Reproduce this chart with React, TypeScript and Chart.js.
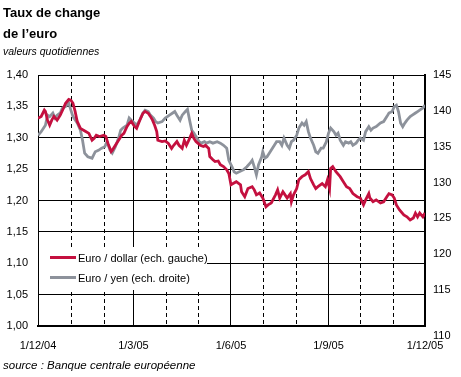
import React, { useEffect, useRef } from 'react';
import { Chart, registerables } from 'chart.js';

Chart.register(...registerables);

const FONT = '"Liberation Sans", Arial, Helvetica, sans-serif';
const RED = '#c4103f';
const GREY = '#8d929b';

// Day offsets counted from 1 December 2004
const usdDays = [
  0, 3, 6, 7, 9, 11, 13, 15, 18, 21,
  24, 26, 29, 31, 33, 35, 37, 40, 43, 45,
  48, 51, 53, 55, 58, 62, 64, 66, 69, 70,
  73, 76, 79, 81, 84, 86, 88, 91, 93, 96,
  99, 101, 104, 106, 108, 110, 112, 113, 117, 120,
  123, 126, 128, 131, 133, 136, 138, 140, 143, 145,
  147, 149, 151, 153, 156, 158, 161, 162, 165, 167,
  170, 172, 175, 178, 180, 182, 184, 187, 191, 192,
  195, 198, 202, 204, 206, 209, 212, 215, 217, 220,
  224, 226, 228, 231, 233, 235, 238, 239, 241, 244,
  246, 249, 252, 255, 257, 260, 262, 264, 268, 271,
  273, 275, 276, 278, 281, 285, 288, 291, 294, 297,
  301, 304, 307, 309, 312, 313, 316, 319, 323, 326,
  329, 331, 334, 336, 338, 341, 345, 348, 351, 354,
  356, 358, 360, 363, 365,
];
const usdRates = [
  1.331, 1.334, 1.344, 1.342, 1.328, 1.320, 1.328, 1.334, 1.328, 1.336,
  1.347, 1.355, 1.361, 1.360, 1.355, 1.342, 1.326, 1.315, 1.312, 1.310,
  1.307, 1.296, 1.299, 1.304, 1.302, 1.304, 1.302, 1.291, 1.278, 1.280,
  1.288, 1.296, 1.304, 1.307, 1.318, 1.323, 1.326, 1.318, 1.315, 1.328,
  1.339, 1.342, 1.339, 1.334, 1.328, 1.320, 1.310, 1.296, 1.294, 1.295,
  1.291, 1.283, 1.288, 1.294, 1.288, 1.283, 1.296, 1.288, 1.299, 1.307,
  1.299, 1.294, 1.291, 1.288, 1.286, 1.288, 1.283, 1.270, 1.265, 1.262,
  1.263, 1.257, 1.254, 1.249, 1.243, 1.225, 1.227, 1.230, 1.225, 1.214,
  1.206, 1.219, 1.222, 1.217, 1.209, 1.212, 1.204, 1.190, 1.193, 1.196,
  1.209, 1.217, 1.204, 1.214, 1.209, 1.204, 1.211, 1.198, 1.209, 1.219,
  1.233, 1.238, 1.241, 1.246, 1.235, 1.225, 1.219, 1.222, 1.227, 1.222,
  1.233, 1.219, 1.251, 1.254, 1.246, 1.238, 1.230, 1.222, 1.219, 1.211,
  1.206, 1.204, 1.193, 1.201, 1.211, 1.204, 1.198, 1.201, 1.196, 1.198,
  1.206, 1.211, 1.209, 1.204, 1.193, 1.185, 1.177, 1.174, 1.169, 1.172,
  1.180, 1.174, 1.180, 1.174, 1.180,
];

const jpyDays = [
  0, 3, 7, 9, 11, 14, 16, 18, 21, 23,
  26, 29, 31, 33, 37, 40, 42, 44, 47, 51,
  54, 57, 60, 63, 65, 68, 70, 73, 76, 78,
  80, 84, 86, 88, 91, 93, 96, 99, 101, 104,
  106, 109, 111, 113, 117, 120, 122, 124, 127, 129,
  131, 134, 136, 139, 141, 143, 145, 147, 150, 152,
  154, 157, 159, 162, 165, 169, 172, 175, 178, 180,
  183, 185, 187, 194, 197, 200, 202, 204, 206, 208,
  211, 212, 214, 216, 219, 222, 225, 228, 230, 232,
  235, 237, 239, 241, 244, 246, 249, 251, 253, 255,
  257, 260, 262, 264, 267, 269, 272, 274, 276, 279,
  281, 283, 285, 288, 290, 293, 295, 297, 300, 302,
  304, 307, 309, 312, 314, 316, 319, 323, 326, 329,
  331, 334, 336, 338, 340, 342, 344, 346, 348, 351,
  353, 356, 358, 360, 363, 365,
];
const jpyRates = [
  136.6, 137.1, 138.0, 139.4, 139.2, 139.7, 139.0, 139.4, 139.7, 140.4,
  140.6, 141.1, 140.1, 139.2, 138.3, 137.3, 135.9, 134.1, 133.6, 133.4,
  134.3, 134.5, 134.8, 135.0, 135.7, 134.5, 134.1, 135.0, 136.2, 137.3,
  137.6, 138.0, 139.0, 138.7, 138.3, 138.0, 138.7, 139.7, 140.1, 139.9,
  139.4, 139.0, 138.5, 138.3, 138.5, 139.0, 139.2, 139.4, 139.7, 139.9,
  139.4, 138.7, 139.4, 139.9, 140.2, 138.7, 137.3, 136.9, 136.2, 135.7,
  135.5, 135.7, 135.5, 135.7, 135.5, 135.7, 135.5, 135.2, 134.8, 133.1,
  132.2, 131.5, 131.3, 131.8, 132.2, 132.7, 133.1, 132.2, 131.1, 132.5,
  133.6, 134.3, 133.4, 133.6, 134.3, 135.0, 135.7, 135.7, 135.2, 136.2,
  135.2, 134.8, 135.7, 135.9, 136.6, 137.6, 138.3, 138.0, 138.5, 137.1,
  136.2, 135.2, 134.3, 134.1, 134.8, 134.8, 135.7, 136.9, 137.6, 137.1,
  136.6, 136.9, 135.9, 135.2, 135.7, 135.5, 135.7, 135.2, 135.5, 135.9,
  136.2, 135.9, 137.1, 137.8, 137.3, 137.6, 137.8, 138.3, 138.5, 139.2,
  139.7, 139.9, 140.6, 140.8, 139.9, 138.3, 137.8, 138.3, 138.7, 139.2,
  139.4, 139.7, 139.9, 140.1, 140.4, 140.8,
];

const quarterDays = [0, 90, 182, 274, 365];
const quarterLabels = ['1/12/04', '1/3/05', '1/6/05', '1/9/05', '1/12/05'];
const monthDays = [31, 62, 121, 151, 212, 243, 304, 335];

const usdMin = 1.0;
const usdMax = 1.4;
const usdStep = 0.05;
const jpyMin = 110;
const jpyMax = 145;
const jpyStep = 5;

const usdLabel = 'Euro / dollar (ech. gauche)';
const jpyLabel = 'Euro / yen (ech. droite)';

const monthGridPlugin = {
  id: 'monthGrid',
  beforeDatasetsDraw(chart: any) {
    const { ctx, chartArea, scales } = chart;
    ctx.save();
    ctx.strokeStyle = '#000';
    ctx.lineWidth = 1;
    ctx.setLineDash([4, 3]);
    monthDays.forEach((d) => {
      const x = Math.round(scales.x.getPixelForValue(d)) + 0.5;
      ctx.beginPath();
      ctx.moveTo(x, chartArea.top);
      ctx.lineTo(x, chartArea.bottom);
      ctx.stroke();
    });
    ctx.setLineDash([]);
    // white panel behind the legend
    ctx.fillStyle = '#fff';
    ctx.fillRect(chartArea.left + 1, 247, 168, 43);
    ctx.restore();
  },
};

export default function App() {
  const canvasRef = useRef<HTMLCanvasElement | null>(null);

  useEffect(() => {
    const canvas = canvasRef.current;
    if (!canvas) return;
    const tickFont = { family: FONT, size: 11 };
    const chart = new Chart(canvas, {
      type: 'line',
      data: {
        datasets: [
          {
            label: usdLabel,
            data: usdDays.map((d, i) => ({ x: d, y: usdRates[i] })),
            yAxisID: 'y',
            borderColor: RED,
            backgroundColor: RED,
            borderWidth: 2.8,
            pointRadius: 0,
            tension: 0,
          },
          {
            label: jpyLabel,
            data: jpyDays.map((d, i) => ({ x: d, y: jpyRates[i] })),
            yAxisID: 'y2',
            borderColor: GREY,
            backgroundColor: GREY,
            borderWidth: 2.8,
            pointRadius: 0,
            tension: 0,
          },
        ],
      },
      options: {
        animation: false,
        responsive: false,
        devicePixelRatio: 1,
        layout: { padding: { top: 75, left: 0, right: 0, bottom: 0 } },
        plugins: { legend: { display: false }, tooltip: { enabled: false } },
        scales: {
          x: {
            type: 'linear',
            min: quarterDays[0],
            max: quarterDays[quarterDays.length - 1],
            position: 'bottom',
            afterBuildTicks: (s: any) => {
              s.ticks = quarterDays.map((v) => ({ value: v }));
            },
            afterFit: (s: any) => {
              s.height = 51;
            },
            ticks: {
              autoSkip: false,
              maxRotation: 0,
              padding: 13,
              color: '#000',
              font: tickFont,
              callback: (_v: any, i: number) => quarterLabels[i],
            },
            grid: { color: '#000', lineWidth: 1, drawTicks: false },
            border: { color: '#000', width: 2 },
          },
          y: {
            position: 'left',
            min: usdMin,
            max: usdMax,
            afterFit: (s: any) => {
              s.width = 38;
            },
            ticks: {
              autoSkip: false,
              stepSize: usdStep,
              padding: 10,
              color: '#000',
              font: tickFont,
              callback: (v: any) => Number(v).toFixed(2).replace('.', ','),
            },
            grid: { color: '#000', lineWidth: 1, drawTicks: false },
            border: { color: '#000', width: 1 },
          },
          y2: {
            position: 'right',
            min: jpyMin,
            max: jpyMax,
            afterFit: (s: any) => {
              s.width = 36;
            },
            ticks: {
              autoSkip: false,
              stepSize: jpyStep,
              padding: 8,
              color: '#000',
              font: (ctx: any) => ({
                family: FONT,
                size: 11,
                lineHeight: ctx.tick && ctx.tick.value === jpyMin ? '20px' : 1.2,
              }),
              callback: (v: any) => (Number(v) === jpyMin ? ['', String(v)] : String(v)),
            },
            grid: { drawOnChartArea: false, drawTicks: false },
            border: { color: '#000', width: 2 },
          },
        },
      },
      plugins: [monthGridPlugin],
    } as any);
    return () => chart.destroy();
  }, []);

  const abs: React.CSSProperties = { position: 'absolute', whiteSpace: 'nowrap', color: '#000' };

  return (
    <div
      style={{
        position: 'absolute',
        left: 0,
        top: 0,
        width: 461,
        height: 377,
        background: '#fff',
        overflow: 'hidden',
        fontFamily: FONT,
      }}
    >
      <canvas ref={canvasRef} width={461} height={377} style={{ position: 'absolute', left: 0, top: 0 }} />
      <div style={{ ...abs, left: 3, top: 6, fontSize: 13, fontWeight: 'bold', lineHeight: '13px' }}>Taux de change</div>
      <div style={{ ...abs, left: 3, top: 26.5, fontSize: 13, fontWeight: 'bold', lineHeight: '13px' }}>de l’euro</div>
      <div style={{ ...abs, left: 3, top: 46.3, fontSize: 10.5, fontStyle: 'italic', lineHeight: '10.5px' }}>
        valeurs quotidiennes
      </div>

      <div style={{ ...abs, left: 50, top: 256, width: 26, height: 3, background: RED }} />
      <div style={{ ...abs, left: 78, top: 252.6, fontSize: 11, lineHeight: '11px' }}>{usdLabel}</div>
      <div style={{ ...abs, left: 50, top: 276, width: 26, height: 3, background: GREY }} />
      <div style={{ ...abs, left: 78, top: 272.6, fontSize: 11, lineHeight: '11px' }}>{jpyLabel}</div>

      <div style={{ ...abs, left: 3, top: 360, fontSize: 11.5, fontStyle: 'italic', lineHeight: '11.5px' }}>
        source : Banque centrale européenne
      </div>
    </div>
  );
}
